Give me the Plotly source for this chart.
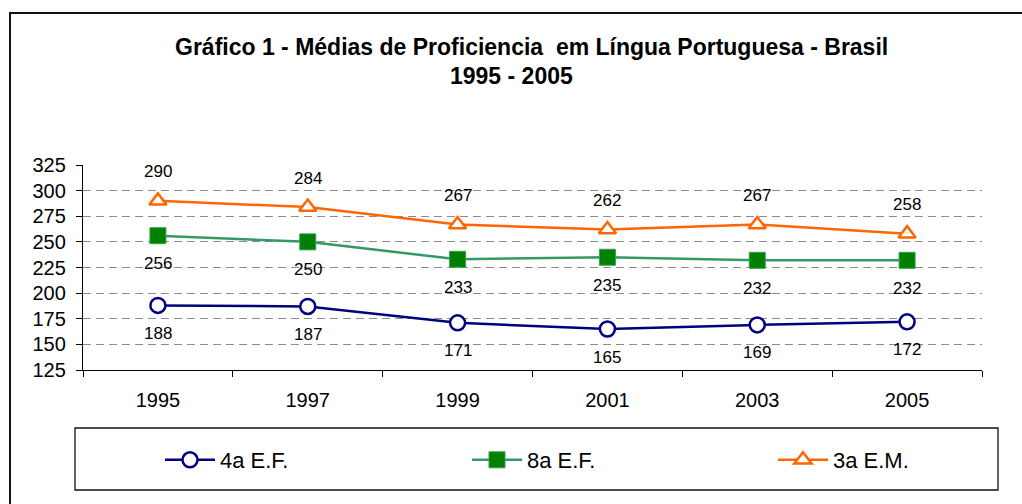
import plotly.graph_objects as go

years = ["1995", "1997", "1999", "2001", "2003", "2005"]
ef4 = [188, 187, 171, 165, 169, 172]
ef8 = [256, 250, 233, 235, 232, 232]
em3 = [290, 284, 267, 262, 267, 258]
y_ticks = [125, 150, 175, 200, 225, 250, 275, 300, 325]

W, H = 1022, 504
L, R, T, B = 83, 40, 165, 134
PW, PH = W - L - R, H - T - B


def px_x(p):
    return (p - L) / PW


def px_y(p):
    return (H - B - p) / PH


FONT = "Liberation Sans, Arial, sans-serif"

fig = go.Figure()
fig.add_trace(go.Scatter(
    x=years, y=ef4, name="4a E.F.", mode="lines+markers", legend="legend",
    line=dict(color="#000080", width=2.5),
    marker=dict(symbol="circle", size=15, color="white",
                line=dict(color="#000080", width=2.5)),
))
fig.add_trace(go.Scatter(
    x=years, y=ef8, name="8a E.F.", mode="lines+markers", legend="legend2",
    line=dict(color="#339966", width=2.5),
    marker=dict(symbol="square", size=16, color="#008000",
                line=dict(color="#33a050", width=1)),
))
fig.add_trace(go.Scatter(
    x=years, y=em3, name="3a E.M.", mode="lines+markers", legend="legend3",
    line=dict(color="#FF6600", width=2.5),
    marker=dict(symbol="triangle-up", size=15, color="white",
                line=dict(color="#FF6600", width=2.5)),
))

annotations = []
for series, shift in ((ef4, -28), (ef8, -28), (em3, 29)):
    for i, v in enumerate(series):
        annotations.append(dict(
            x=i, y=v, xref="x", yref="y", text=str(v), showarrow=False,
            yshift=shift, font=dict(family=FONT, size=17, color="black"),
        ))

annotations.append(dict(
    x=px_x(531), y=px_y(47), xref="paper", yref="paper",
    text="<b>Gráfico 1 - Médias de Proficiencia  em Língua Portuguesa - Brasil</b>",
    showarrow=False, xanchor="center", yanchor="middle",
    font=dict(family=FONT, size=23, color="black"),
))
annotations.append(dict(
    x=px_x(511), y=px_y(76), xref="paper", yref="paper",
    text="<b>1995 - 2005</b>",
    showarrow=False, xanchor="center", yanchor="middle",
    font=dict(family=FONT, size=23, color="black"),
))

shapes = [
    dict(type="rect", xref="paper", yref="paper",
         x0=px_x(10), x1=px_x(1040), y0=px_y(520), y1=px_y(13),
         line=dict(color="#111111", width=2), fillcolor="rgba(0,0,0,0)"),
    dict(type="rect", xref="paper", yref="paper",
         x0=px_x(75), x1=px_x(998), y0=px_y(490), y1=px_y(428),
         line=dict(color="#111111", width=1.3), fillcolor="rgba(0,0,0,0)"),
]

leg_common = dict(
    orientation="h", xanchor="left", yanchor="middle", y=px_y(460),
    bgcolor="rgba(0,0,0,0)", borderwidth=0, itemwidth=50,
    font=dict(family=FONT, size=22, color="black"),
)

fig.update_layout(
    width=W, height=H,
    margin=dict(l=L, r=R, t=T, b=B, pad=0),
    paper_bgcolor="white", plot_bgcolor="white",
    font=dict(family=FONT, color="black"),
    hovermode=False,
    showlegend=True,
    legend=dict(x=px_x(160), **leg_common),
    legend2=dict(x=px_x(467), **leg_common),
    legend3=dict(x=px_x(773), **leg_common),
    annotations=annotations,
    shapes=shapes,
)

fig.update_xaxes(
    type="category", range=[-0.5, 5.5],
    showline=True, linecolor="black", linewidth=1.3,
    ticks="outside", tickson="boundaries", ticklen=6, tickcolor="black",
    showgrid=False, tickfont=dict(family=FONT, size=20, color="black"),
    ticklabelstandoff=12,
)
fig.update_yaxes(
    range=[125, 325], tickvals=y_ticks,
    showline=True, linecolor="black", linewidth=1.3,
    ticks="outside", ticklen=6, tickcolor="black",
    showgrid=True, gridcolor="#8c8c8c", gridwidth=1, griddash="8px,5px",
    zeroline=False, tickfont=dict(family=FONT, size=20, color="black"),
    ticklabelstandoff=6,
)

fig.write_html("out.html", config={"displayModeBar": False},
               post_script="document.body.style.margin='0px';")
